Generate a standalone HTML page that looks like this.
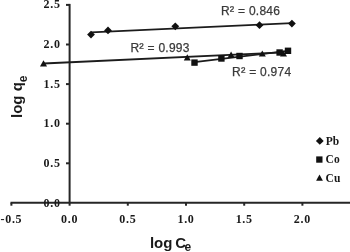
<!DOCTYPE html>
<html><head><meta charset="utf-8">
<style>
html,body{margin:0;padding:0;background:#fff;width:350px;height:252px;overflow:hidden}
svg{display:block;filter:blur(0.35px)}
.tk{font-family:"Liberation Serif",serif;font-weight:bold;font-size:12px;letter-spacing:0.7px;fill:#1a1a1a}
.ax{font-family:"Liberation Sans",sans-serif;font-weight:bold;font-size:15px;fill:#1a1a1a}
.r2{font-family:"Liberation Sans",sans-serif;font-size:12px;letter-spacing:0.25px;fill:#3a3a3a;stroke:#3a3a3a;stroke-width:0.25px}
.lg{font-family:"Liberation Serif",serif;font-weight:bold;font-size:11.5px;fill:#1a1a1a}
</style></head>
<body>
<svg width="350" height="252" viewBox="0 0 350 252">
<g stroke="#262626" stroke-width="2" fill="none">
  <!-- y axis -->
  <line x1="69.6" y1="3.9" x2="69.6" y2="205.7"/>
  <!-- y ticks -->
  <line x1="66" y1="4.9" x2="69.6" y2="4.9"/>
  <line x1="66" y1="44.5" x2="69.6" y2="44.5"/>
  <line x1="66" y1="84.1" x2="69.6" y2="84.1"/>
  <line x1="66" y1="123.7" x2="69.6" y2="123.7"/>
  <line x1="66" y1="163.3" x2="69.6" y2="163.3"/>
  <!-- x axis -->
  <line x1="10.5" y1="202.8" x2="350" y2="202.8"/>
  <line x1="11.4" y1="202.8" x2="11.4" y2="205.7"/>
  <line x1="127.8" y1="202.8" x2="127.8" y2="205.7"/>
  <line x1="186" y1="202.8" x2="186" y2="205.7"/>
  <line x1="244.2" y1="202.8" x2="244.2" y2="205.7"/>
  <line x1="302.4" y1="202.8" x2="302.4" y2="205.7"/>
</g>
<!-- y tick labels -->
<g class="tk" text-anchor="end">
  <text x="60.7" y="8.1">2.5</text>
  <text x="60.7" y="48.2">2.0</text>
  <text x="60.7" y="87.8">1.5</text>
  <text x="60.7" y="127.4">1.0</text>
  <text x="60.7" y="167">0.5</text>
  <text x="60.7" y="206.6">0.0</text>
</g>
<g class="tk" text-anchor="middle">
  <text x="11.4" y="223.3">-0.5</text>
  <text x="69.6" y="223.3">0.0</text>
  <text x="127.8" y="223.3">0.5</text>
  <text x="186" y="223.3">1.0</text>
  <text x="244.2" y="223.3">1.5</text>
  <text x="302.4" y="223.3">2.0</text>
</g>
<!-- axis titles -->
<text class="ax" transform="translate(21.9,118) rotate(-90)">log q<tspan font-size="12" dy="5">e</tspan></text>
<text class="ax" x="149.9" y="247.6">log <tspan dx="-1.3">C</tspan><tspan font-size="12" dx="-1.6" dy="3">e</tspan></text>
<!-- trend lines -->
<g stroke="#1c1c1c" stroke-width="1.9" fill="none">
  <line x1="91" y1="32.4" x2="292" y2="23.1"/>
  <line x1="43.5" y1="63.5" x2="284" y2="52.4"/>
  <line x1="194.5" y1="62.1" x2="288" y2="50.9"/>
</g>
<!-- markers Pb -->
<g fill="#111">
  <path d="M91 30.7 L94.9 34.6 L91 38.5 L87.1 34.6Z"/>
  <path d="M108 26.5 L111.9 30.4 L108 34.3 L104.1 30.4Z"/>
  <path d="M175.3 22.4 L179.2 26.3 L175.3 30.2 L171.4 26.3Z"/>
  <path d="M259.5 21.3 L263.4 25.2 L259.5 29.1 L255.6 25.2Z"/>
  <path d="M291.9 19.7 L295.8 23.6 L291.9 27.5 L288.0 23.6Z"/>
</g>
<!-- markers Co -->
<g fill="#111">
  <rect x="191.3" y="59.4" width="6.4" height="6.4"/>
  <rect x="218.2" y="55.3" width="6.4" height="6.4"/>
  <rect x="236.3" y="52.8" width="6.4" height="6.4"/>
  <rect x="276.4" y="49.3" width="6.4" height="6.4"/>
  <rect x="284.8" y="47.6" width="6.4" height="6.4"/>
</g>
<!-- markers Cu -->
<g fill="#111">
  <path d="M43.5 60.2 L47 66.4 L40 66.4Z"/>
  <path d="M187.3 54.2 L190.8 60.4 L183.8 60.4Z"/>
  <path d="M231.1 51.6 L234.6 57.8 L227.6 57.8Z"/>
  <path d="M262.3 50.4 L265.8 56.6 L258.8 56.6Z"/>
  <path d="M283.5 50.4 L287 56.6 L280 56.6Z"/>
</g>
<!-- R2 labels -->
<text class="r2" x="220.9" y="14.6"><tspan>R</tspan><tspan font-size="13.2">²</tspan><tspan> = 0.846</tspan></text>
<text class="r2" x="130.4" y="52.1"><tspan>R</tspan><tspan font-size="13.2">²</tspan><tspan> = 0.993</tspan></text>
<text class="r2" x="232.1" y="76.4"><tspan>R</tspan><tspan font-size="13.2">²</tspan><tspan> = 0.974</tspan></text>
<!-- legend -->
<g fill="#111">
  <path d="M319.8 137 L323.7 140.9 L319.8 144.8 L315.9 140.9Z"/>
  <rect x="316.2" y="156.4" width="6.3" height="6.3"/>
  <path d="M319.5 174.6 L322.9 180.8 L316.1 180.8Z"/>
</g>
<g class="lg">
  <text x="325.8" y="144.6">Pb</text>
  <text x="325.6" y="163.4">Co</text>
  <text x="325.6" y="181.7">Cu</text>
</g>
</svg>
</body></html>
